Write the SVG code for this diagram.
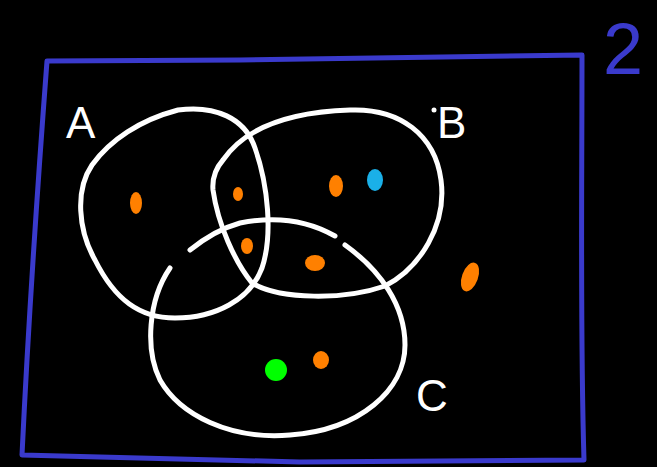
<svg xmlns="http://www.w3.org/2000/svg" width="657" height="467" viewBox="0 0 657 467">
<style>
.w{fill:none;stroke:#fff;stroke-width:5;stroke-linecap:round;stroke-linejoin:round}
.b{fill:none;stroke:#3a3acc;stroke-width:5;stroke-linecap:round;stroke-linejoin:round}
.o{fill:#ff8000}
.t{font-family:"Liberation Sans",Arial,sans-serif;fill:#fff}
</style>
<rect width="657" height="467" fill="#000"/>
<g id="universe">
<path class="b" d="M47,61 L240,60 L582,55 C582,200 580,330 584,460 L300,462 L22,455 C28,330 38,180 47,61 Z"/>
<text x="603" y="74" font-size="72" class="t" style="fill:#3a3acc">2</text>
</g>
<g id="setA">
<path class="w" d="M178,110 C140,120 110,140 92,165 C75,190 78,230 95,260 C115,300 140,318 175,318 C215,318 250,300 262,268 C273,235 268,185 255,148 C245,118 215,105 178,110 Z"/>
<text x="66" y="138" font-size="44" class="t">A</text>
</g>
<g id="setB">
<path class="w" d="M223,160 C245,128 290,112 350,110 C400,108 435,135 441,180 C447,225 420,268 385,286 C345,300 280,300 252,283 C235,262 218,225 213,190 C212,178 216,168 223,160 Z"/>
<circle cx="434" cy="110" r="2.5" fill="#fff"/>
<text x="437" y="138" font-size="44" class="t">B</text>
</g>
<g id="setC">
<path class="w" d="M190,250 C205,238 222,228 240,223 C265,218 300,216 335,236 M345,245 C380,270 405,305 405,345 C405,390 360,430 290,435 C230,440 180,415 160,380 C145,350 148,300 170,268"/>
<text x="416" y="411" font-size="44" class="t">C</text>
</g>
<g id="elements">
<ellipse class="o" cx="136" cy="203" rx="6" ry="11"/>
<ellipse class="o" cx="238" cy="194" rx="5" ry="7"/>
<ellipse class="o" cx="247" cy="246" rx="6" ry="8"/>
<ellipse class="o" cx="336" cy="186" rx="7" ry="11"/>
<ellipse class="o" cx="315" cy="263" rx="10" ry="8"/>
<ellipse class="o" cx="321" cy="360" rx="8" ry="9"/>
<ellipse class="o" cx="470" cy="277" rx="8" ry="15" transform="rotate(20 470 277)"/>
<ellipse cx="375" cy="180" rx="8" ry="11" fill="#1ab0e8"/>
<circle cx="276" cy="370" r="11" fill="#00ff00"/>
</g>
</svg>
